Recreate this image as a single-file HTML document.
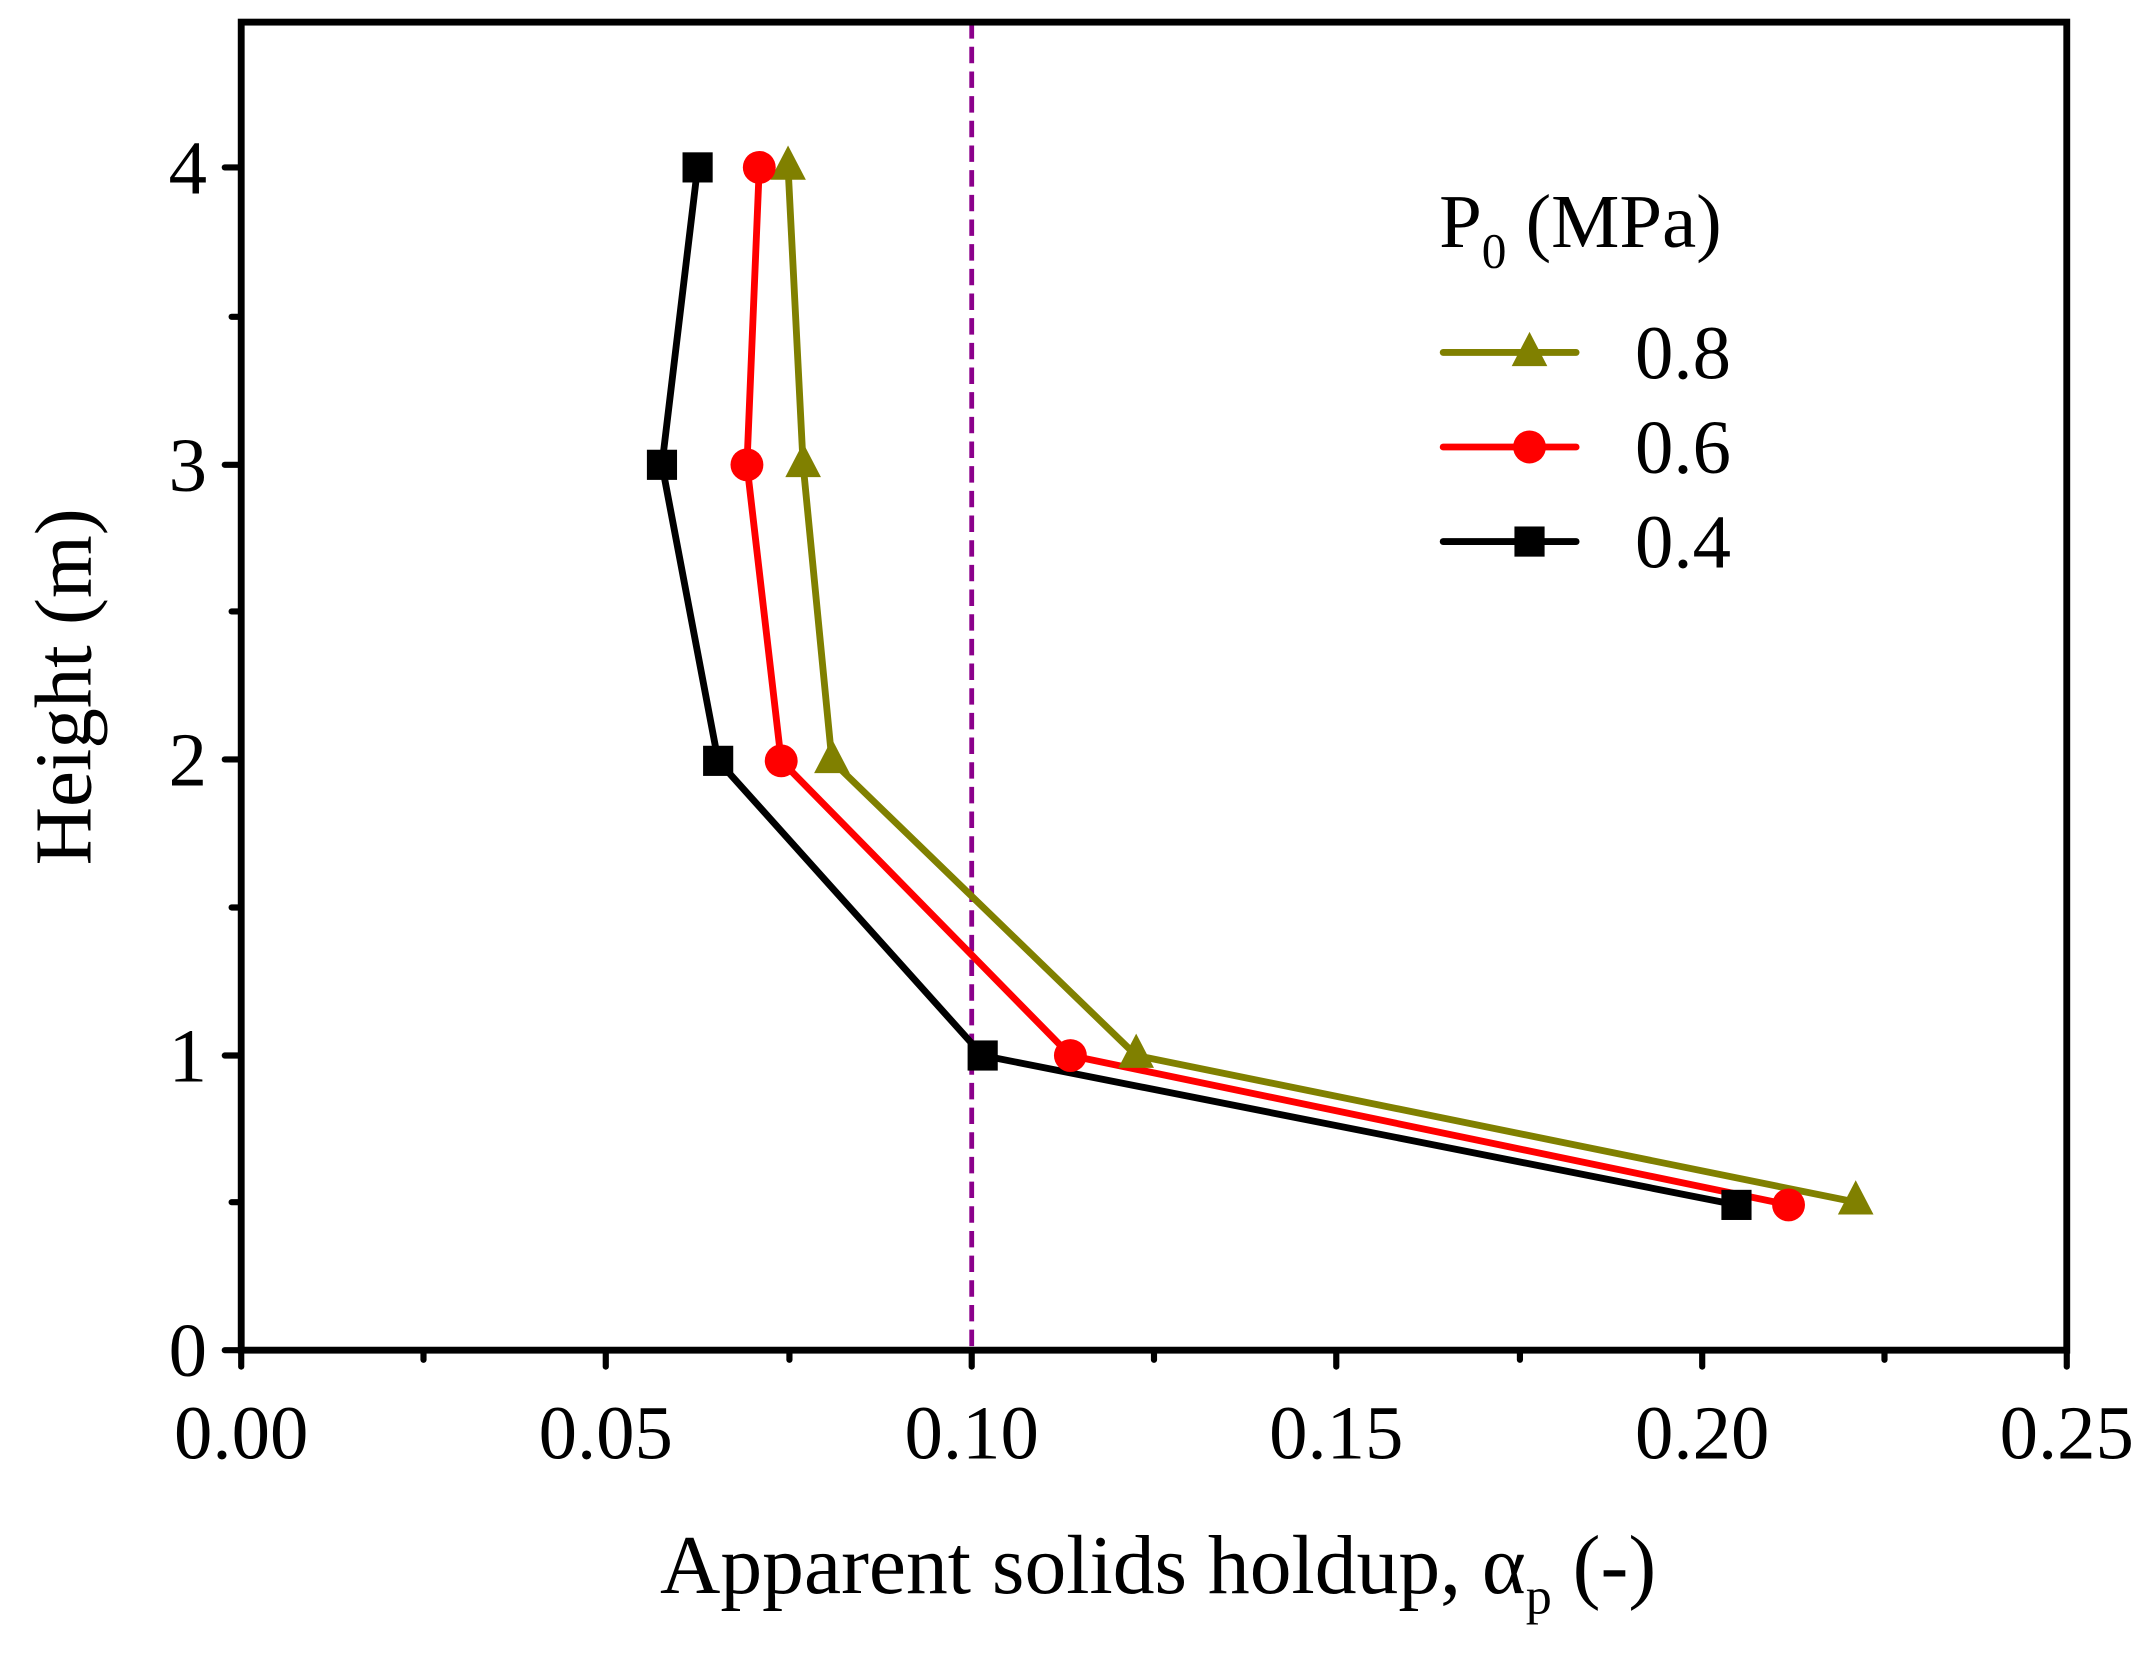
<!DOCTYPE html>
<html><head><meta charset="utf-8"><style>html,body{margin:0;padding:0;background:#fff}svg{display:block}</style></head>
<body>
<svg width="2149" height="1656" viewBox="0 0 1568 1208" xmlns="http://www.w3.org/2000/svg" font-family="Liberation Serif, serif">
<rect x="0" y="0" width="1568" height="1208" fill="#fff"/>
<line x1="709" y1="16" x2="709" y2="985" stroke="#8B008B" stroke-width="3.5" stroke-dasharray="12,6"/>
<g stroke="#000" stroke-width="4.5" stroke-linecap="round">
<line x1="164" y1="985" x2="176" y2="985"/><line x1="164" y1="770" x2="176" y2="770"/><line x1="164" y1="554" x2="176" y2="554"/><line x1="164" y1="339" x2="176" y2="339"/><line x1="164" y1="122" x2="176" y2="122"/>
<line x1="169" y1="877" x2="176" y2="877"/><line x1="169" y1="662" x2="176" y2="662"/><line x1="169" y1="446" x2="176" y2="446"/><line x1="169" y1="231" x2="176" y2="231"/>
<line x1="176" y1="985" x2="176" y2="997"/><line x1="442" y1="985" x2="442" y2="997"/><line x1="709" y1="985" x2="709" y2="997"/><line x1="975" y1="985" x2="975" y2="997"/><line x1="1242" y1="985" x2="1242" y2="997"/><line x1="1508" y1="985" x2="1508" y2="997"/>
<line x1="309" y1="985" x2="309" y2="992"/><line x1="576" y1="985" x2="576" y2="992"/><line x1="842" y1="985" x2="842" y2="992"/><line x1="1109" y1="985" x2="1109" y2="992"/><line x1="1375" y1="985" x2="1375" y2="992"/>
</g>
<rect x="176" y="16" width="1332" height="969" fill="none" stroke="#000" stroke-width="5"/>
<g font-size="56" fill="#000" text-anchor="end">
<text x="151" y="1004">0</text><text x="151" y="789">1</text><text x="151" y="573">2</text><text x="151" y="358">3</text><text x="151" y="141">4</text>
</g>
<g font-size="56" fill="#000" text-anchor="middle">
<text x="176" y="1064">0.00</text><text x="442" y="1064">0.05</text><text x="709" y="1064">0.10</text><text x="975" y="1064">0.15</text><text x="1242" y="1064">0.20</text><text x="1508" y="1064">0.25</text>
</g>
<text x="845" y="1162" font-size="61" text-anchor="middle">Apparent solids holdup, α<tspan font-size="38" dy="15">p</tspan><tspan dy="-15"> (-)</tspan></text>
<text transform="translate(66,501) rotate(-90)" font-size="59" text-anchor="middle">Height (m)</text>
<g fill="none" stroke-width="5" stroke-linejoin="round">
<polyline stroke="#808000" points="575,122 586,339 607,555 829,770 1354,877"/>
<polyline stroke="#ff0000" points="554,122 545,339 570,555 781,770 1305,879"/>
<polyline stroke="#000" points="509,122 483,339 524,555 717,770 1267,879"/>
</g>
<g fill="#808000">
<polygon points="575,106 562,131 588,131"/><polygon points="586,323 573,348 599,348"/><polygon points="607,539 594,564 620,564"/><polygon points="829,754 816,779 842,779"/><polygon points="1354,861 1341,886 1367,886"/>
</g>
<g fill="#ff0000">
<circle cx="554" cy="122" r="12"/><circle cx="545" cy="339" r="12"/><circle cx="570" cy="555" r="12"/><circle cx="781" cy="770" r="12"/><circle cx="1305" cy="879" r="12"/>
</g>
<g fill="#000">
<rect x="498" y="111" width="22" height="22"/><rect x="472" y="328" width="22" height="22"/><rect x="513" y="544" width="22" height="22"/><rect x="706" y="759" width="22" height="22"/><rect x="1256" y="868" width="22" height="22"/>
</g>
<text x="1050" y="180" font-size="56">P<tspan font-size="36" dy="15">0</tspan><tspan dy="-15"> (MPa)</tspan></text>
<g stroke-width="5" stroke-linecap="round">
<line x1="1053" y1="257" x2="1150" y2="257" stroke="#808000"/>
<line x1="1053" y1="326" x2="1150" y2="326" stroke="#ff0000"/>
<line x1="1053" y1="395" x2="1150" y2="395" stroke="#000"/>
</g>
<polygon points="1116,242 1103,267 1129,267" fill="#808000"/>
<circle cx="1116" cy="326" r="12" fill="#ff0000"/>
<rect x="1105" y="384" width="22" height="22" fill="#000"/>
<g font-size="56" fill="#000">
<text x="1193" y="276">0.8</text><text x="1193" y="345">0.6</text><text x="1193" y="414">0.4</text>
</g>
</svg>
</body></html>
